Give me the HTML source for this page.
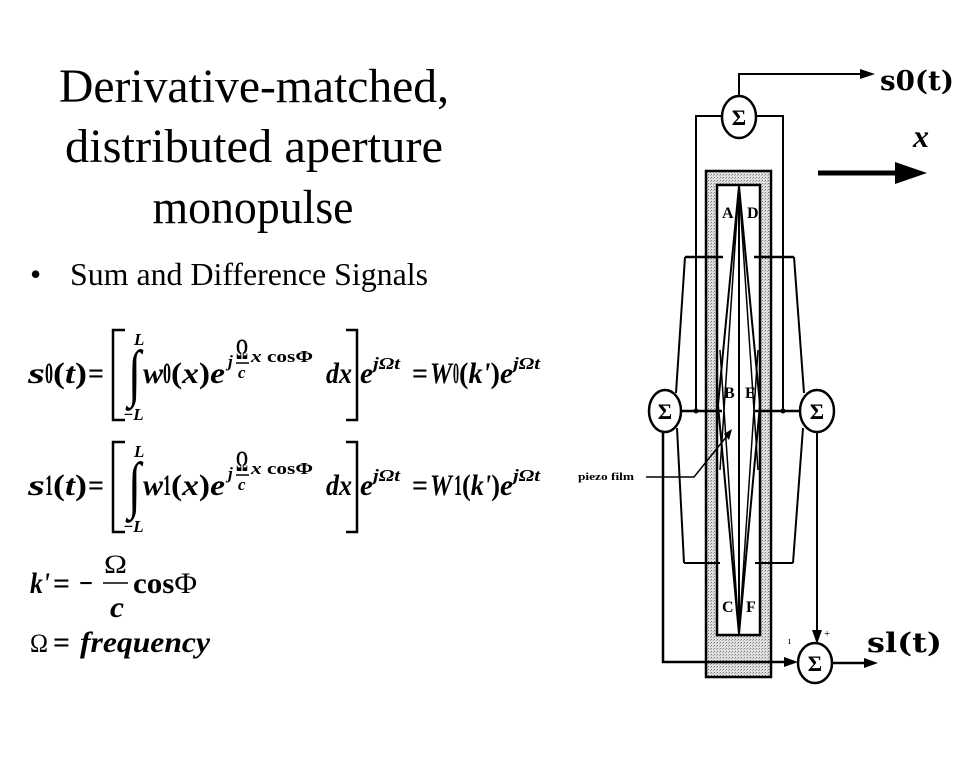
<!DOCTYPE html>
<html><head><meta charset="utf-8"><style>
html,body{margin:0;padding:0;background:#fff;}
svg{display:block;}
.t{font-family:"Liberation Serif",serif;}
.m{font-family:"Liberation Serif",serif;font-weight:bold;font-style:italic;font-size:30px;}
.u{font-family:"Liberation Serif",serif;font-weight:bold;font-size:30px;}
.sm{font-family:"Liberation Serif",serif;font-weight:bold;font-style:italic;font-size:17px;}
.lab{font-family:"Liberation Serif",serif;font-weight:bold;font-size:16px;}
.sig{font-family:"Liberation Serif",serif;font-weight:bold;font-size:22px;}
</style></head><body>
<svg width="960" height="768" viewBox="0 0 960 768" xmlns="http://www.w3.org/2000/svg">
<defs>
<pattern id="stip" width="3" height="3" patternUnits="userSpaceOnUse">
<rect width="3" height="3" fill="#e0e0e0"/>
<rect x="0" y="0" width="1" height="1" fill="#7a7a7a"/>
<rect x="2" y="1" width="1" height="1" fill="#a8a8a8"/>
</pattern>
</defs>
<rect width="960" height="768" fill="#fff"/>

<!-- Title -->
<text class="t" x="254" y="102" text-anchor="middle" font-size="48" textLength="390" lengthAdjust="spacingAndGlyphs">Derivative-matched,</text>
<text class="t" x="254" y="162" text-anchor="middle" font-size="48" textLength="378" lengthAdjust="spacingAndGlyphs">distributed aperture</text>
<text class="t" x="253" y="223" text-anchor="middle" font-size="48" textLength="201" lengthAdjust="spacingAndGlyphs">monopulse</text>
<text class="t" x="30" y="285" font-size="32">•</text>
<text class="t" x="70" y="285" font-size="32" textLength="358" lengthAdjust="spacingAndGlyphs">Sum and Difference Signals</text>

<!-- Equation 1 -->
<g>
<text class="m" x="28" y="383" textLength="17" lengthAdjust="spacingAndGlyphs">s</text>
<text class="u" x="45" y="383" font-size="16" textLength="8" lengthAdjust="spacingAndGlyphs">0</text>
<text class="u" x="53" y="383" textLength="34" lengthAdjust="spacingAndGlyphs">(<tspan font-style="italic">t</tspan>)</text>
<text class="u" x="88" y="383" textLength="16" lengthAdjust="spacingAndGlyphs">=</text>
<path d="M125,330 H113 V420 H125" fill="none" stroke="#000" stroke-width="2.5"/>
<text class="t" x="128" y="394" font-size="63" textLength="13" lengthAdjust="spacingAndGlyphs">∫</text>
<text class="sm" x="134" y="345" font-size="16">L</text>
<text class="sm" x="123" y="420" font-size="16">−L</text>
<text class="m" x="143" y="383" textLength="20" lengthAdjust="spacingAndGlyphs">w</text>
<text class="u" x="163" y="383" font-size="16" textLength="8" lengthAdjust="spacingAndGlyphs">0</text>
<text class="m" x="171" y="383" textLength="54" lengthAdjust="spacingAndGlyphs"><tspan font-style="normal">(</tspan>x<tspan font-style="normal">)</tspan>e</text>
<text class="sm" x="228" y="367">j</text>
<text class="u" x="236" y="359" font-size="17" textLength="12" lengthAdjust="spacingAndGlyphs">Ω</text>
<line x1="236" y1="363" x2="249" y2="363" stroke="#000" stroke-width="1.5"/>
<text class="sm" x="238" y="378">c</text>
<text class="sm" x="251" y="362" textLength="62" lengthAdjust="spacingAndGlyphs">x <tspan font-style="normal">cosΦ</tspan></text>
<text class="m" x="326" y="383" textLength="26" lengthAdjust="spacingAndGlyphs">dx</text>
<path d="M346,330 H357 V420 H346" fill="none" stroke="#000" stroke-width="2.5"/>
<text class="m" x="360" y="383" textLength="13" lengthAdjust="spacingAndGlyphs">e</text>
<text class="sm" x="373" y="369" textLength="27" lengthAdjust="spacingAndGlyphs">jΩt</text>
<text class="u" x="412" y="383" textLength="16" lengthAdjust="spacingAndGlyphs">=</text>
<text class="m" x="430" y="383" textLength="22" lengthAdjust="spacingAndGlyphs">W</text>
<text class="u" x="453" y="383" font-size="13" textLength="6" lengthAdjust="spacingAndGlyphs">0</text>
<text class="m" x="459" y="383" textLength="41" lengthAdjust="spacingAndGlyphs"><tspan font-style="normal">(</tspan>k'<tspan font-style="normal">)</tspan></text>
<text class="m" x="500" y="383" textLength="13" lengthAdjust="spacingAndGlyphs">e</text>
<text class="sm" x="513" y="369" textLength="27" lengthAdjust="spacingAndGlyphs">jΩt</text>
</g>

<!-- Equation 2 -->
<g transform="translate(0,112)">
<text class="m" x="28" y="383" textLength="17" lengthAdjust="spacingAndGlyphs">s</text>
<text class="u" x="45" y="383" font-size="16" textLength="8" lengthAdjust="spacingAndGlyphs">1</text>
<text class="u" x="53" y="383" textLength="34" lengthAdjust="spacingAndGlyphs">(<tspan font-style="italic">t</tspan>)</text>
<text class="u" x="88" y="383" textLength="16" lengthAdjust="spacingAndGlyphs">=</text>
<path d="M125,330 H113 V420 H125" fill="none" stroke="#000" stroke-width="2.5"/>
<text class="t" x="128" y="394" font-size="63" textLength="13" lengthAdjust="spacingAndGlyphs">∫</text>
<text class="sm" x="134" y="345" font-size="16">L</text>
<text class="sm" x="123" y="420" font-size="16">−L</text>
<text class="m" x="143" y="383" textLength="20" lengthAdjust="spacingAndGlyphs">w</text>
<text class="u" x="163" y="383" font-size="16" textLength="8" lengthAdjust="spacingAndGlyphs">1</text>
<text class="m" x="171" y="383" textLength="54" lengthAdjust="spacingAndGlyphs"><tspan font-style="normal">(</tspan>x<tspan font-style="normal">)</tspan>e</text>
<text class="sm" x="228" y="367">j</text>
<text class="u" x="236" y="359" font-size="17" textLength="12" lengthAdjust="spacingAndGlyphs">Ω</text>
<line x1="236" y1="363" x2="249" y2="363" stroke="#000" stroke-width="1.5"/>
<text class="sm" x="238" y="378">c</text>
<text class="sm" x="251" y="362" textLength="62" lengthAdjust="spacingAndGlyphs">x <tspan font-style="normal">cosΦ</tspan></text>
<text class="m" x="326" y="383" textLength="26" lengthAdjust="spacingAndGlyphs">dx</text>
<path d="M346,330 H357 V420 H346" fill="none" stroke="#000" stroke-width="2.5"/>
<text class="m" x="360" y="383" textLength="13" lengthAdjust="spacingAndGlyphs">e</text>
<text class="sm" x="373" y="369" textLength="27" lengthAdjust="spacingAndGlyphs">jΩt</text>
<text class="u" x="412" y="383" textLength="16" lengthAdjust="spacingAndGlyphs">=</text>
<text class="m" x="430" y="383" textLength="22" lengthAdjust="spacingAndGlyphs">W</text>
<text class="u" x="454" y="383" font-size="18" textLength="8" lengthAdjust="spacingAndGlyphs">1</text>
<text class="m" x="462" y="383" textLength="38" lengthAdjust="spacingAndGlyphs"><tspan font-style="normal">(</tspan>k'<tspan font-style="normal">)</tspan></text>
<text class="m" x="500" y="383" textLength="13" lengthAdjust="spacingAndGlyphs">e</text>
<text class="sm" x="513" y="369" textLength="27" lengthAdjust="spacingAndGlyphs">jΩt</text>
</g>

<!-- k' equation -->
<text class="m" x="30" y="593" textLength="20" lengthAdjust="spacingAndGlyphs">k'</text>
<text class="u" x="53" y="593" textLength="17" lengthAdjust="spacingAndGlyphs">=</text>
<text class="u" x="79" y="593" textLength="14" lengthAdjust="spacingAndGlyphs">−</text>
<text class="t" x="104" y="573" font-size="26" textLength="23" lengthAdjust="spacingAndGlyphs">Ω</text>
<line x1="103" y1="583" x2="128" y2="583" stroke="#000" stroke-width="1.5"/>
<text class="m" x="110" y="617" textLength="14" lengthAdjust="spacingAndGlyphs">c</text>
<text class="u" x="133" y="593" textLength="64" lengthAdjust="spacingAndGlyphs">cos<tspan font-weight="normal">Φ</tspan></text>
<text class="t" x="30" y="652" font-size="26" textLength="18" lengthAdjust="spacingAndGlyphs">Ω</text>
<text class="u" x="53" y="652" textLength="17" lengthAdjust="spacingAndGlyphs">=</text>
<text class="m" x="80" y="652" textLength="130" lengthAdjust="spacingAndGlyphs">frequency</text>

<!-- Diagram -->
<g stroke="#000" fill="none" stroke-width="2">
<path d="M706,171 H771 V677 H706 Z M717,185 V635 H760 V185 Z" fill="url(#stip)" fill-rule="evenodd" stroke="none"/>
<rect x="706" y="171" width="65" height="506" stroke-width="2.5"/>
<rect x="717" y="185" width="43" height="450" stroke-width="2.5"/>

<line x1="739" y1="185" x2="739" y2="635"/>
<polyline points="739,186 718,405 739,634"/>
<polyline points="739,186 760,405 739,634"/>
<line x1="739" y1="186" x2="720" y2="470" stroke-width="1.5"/>
<line x1="739" y1="634" x2="720" y2="350" stroke-width="1.5"/>
<line x1="739" y1="186" x2="758" y2="470" stroke-width="1.5"/>
<line x1="739" y1="634" x2="758" y2="350" stroke-width="1.5"/>

<polyline points="739,96 739,74 862,74"/>
<polyline points="722,116 696,116 696,411"/>
<polyline points="756,116 783,116 783,411"/>

<line x1="685" y1="257" x2="723" y2="257" stroke-width="2.5"/>
<line x1="754" y1="257" x2="794" y2="257" stroke-width="2.5"/>
<line x1="681" y1="411" x2="722" y2="411" stroke-width="2.5"/>
<line x1="755" y1="411" x2="800" y2="411" stroke-width="2.5"/>
<line x1="684" y1="563" x2="720" y2="563" stroke-width="2"/>
<line x1="755" y1="563" x2="793" y2="563" stroke-width="2"/>

<line x1="685" y1="257" x2="676" y2="393"/>
<line x1="677" y1="428" x2="684" y2="563"/>
<line x1="794" y1="257" x2="804" y2="393"/>
<line x1="803" y1="428" x2="793" y2="563"/>

<polyline points="663,432 663,662 786,662" stroke-width="2.5"/>
<line x1="817" y1="432" x2="817" y2="632"/>
<line x1="832" y1="663" x2="866" y2="663" stroke-width="2.5"/>

<polyline points="646,477 694,477 727,436" stroke-width="1.5"/>

<ellipse cx="739" cy="117" rx="17" ry="21" fill="#fff" stroke-width="2.5"/>
<ellipse cx="665" cy="411" rx="16" ry="21" fill="#fff" stroke-width="2.5"/>
<ellipse cx="817" cy="411" rx="17" ry="21" fill="#fff" stroke-width="2.5"/>
<ellipse cx="815" cy="663" rx="17" ry="20" fill="#fff" stroke-width="2.5"/>

<line x1="818" y1="173" x2="898" y2="173" stroke-width="5"/>
</g>
<g fill="#000">
<circle cx="696" cy="411" r="2.5"/>
<circle cx="783" cy="411" r="2.5"/>
<polygon points="860,69 875,74 860,79"/>
<polygon points="895,162 927,173 895,184"/>
<polygon points="784,657 798,662 784,667"/>
<polygon points="812,630 817,644 822,630"/>
<polygon points="864,658 878,663 864,668"/>
<polygon points="724,434 732,429 729,440"/>
</g>

<text class="sig" x="739" y="125" text-anchor="middle">Σ</text>
<text class="sig" x="665" y="419" text-anchor="middle">Σ</text>
<text class="sig" x="817" y="419" text-anchor="middle">Σ</text>
<text class="sig" x="815" y="671" text-anchor="middle">Σ</text>

<text class="lab" x="722" y="218" font-size="15">A</text>
<text class="lab" x="747" y="218" font-size="15">D</text>
<text class="lab" x="724" y="398" font-size="17">B</text>
<text class="lab" x="745" y="398" font-size="17">E</text>
<text class="lab" x="722" y="612" font-size="16">C</text>
<text class="lab" x="746" y="612" font-size="16">F</text>

<text x="880" y="90" font-family="'DejaVu Serif',serif" font-weight="bold" font-size="27" textLength="74" lengthAdjust="spacingAndGlyphs">s0(t)</text>
<text x="867" y="652" font-family="'DejaVu Serif',serif" font-weight="bold" font-size="27" textLength="75" lengthAdjust="spacingAndGlyphs">sl(t)</text>
<text x="913" y="147" font-family="'Liberation Serif',serif" font-style="italic" font-weight="bold" font-size="32">x</text>
<text x="578" y="480" font-family="'Liberation Serif',serif" font-weight="bold" font-size="11" textLength="56" lengthAdjust="spacingAndGlyphs">piezo film</text>
<text x="788" y="644" font-family="'Liberation Serif',serif" font-size="10">ı</text>
<text x="824" y="637" font-family="'Liberation Serif',serif" font-size="11">+</text>
</svg>
</body></html>
